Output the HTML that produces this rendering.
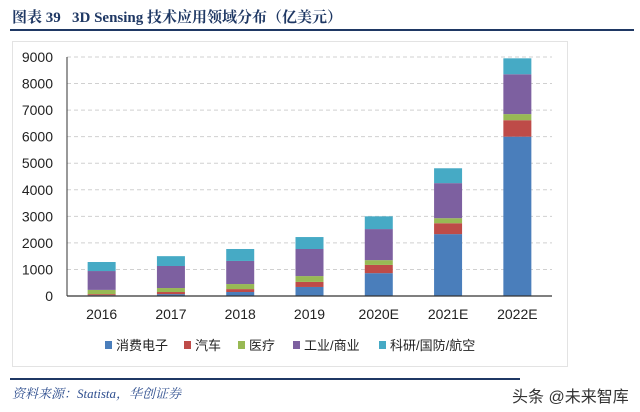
<!DOCTYPE html>
<html><head><meta charset="utf-8">
<style>
body{margin:0;width:640px;height:412px;background:#fff;overflow:hidden;position:relative;font-family:"Liberation Sans","Noto Sans CJK SC",sans-serif;}
#title{position:absolute;left:12px;top:6px;font-family:"Liberation Serif","Noto Serif CJK SC",serif;font-weight:bold;font-size:15px;color:#1f3864;white-space:nowrap;}
#tline{position:absolute;left:10px;top:29px;width:624px;height:2px;background:#1f3864;}
#box{position:absolute;left:12px;top:41px;width:556px;height:326px;border:1px solid #e3e3e3;box-sizing:border-box;}
#fline{position:absolute;left:10px;top:378px;width:510px;height:2px;background:#1f3864;}
#src{position:absolute;left:12px;top:383px;font-family:"Liberation Serif","Noto Serif CJK SC",serif;font-style:italic;font-size:13px;color:#2f4f8f;}
#wm{position:absolute;left:512px;top:383px;font-size:16px;color:#333;}
</style></head><body>
<div id="title">图表 39&nbsp;&nbsp; 3D Sensing 技术应用领域分布（亿美元）</div>
<div id="tline"></div>
<div id="box"></div>
<svg id="chart" width="640" height="412" style="position:absolute;left:0;top:0"></svg>
<div id="fline"></div>
<div id="src">资料来源：Statista，华创证券</div>
<div id="wm">头条 @未来智库</div>
<script>
const categories=["2016","2017","2018","2019","2020E","2021E","2022E"];
const seriesNames=["消费电子","汽车","医疗","工业/商业","科研/国防/航空"];
const consumer=[30,70,150,340,860,2330,6000];
const auto=[40,80,110,190,310,410,620];
const medical=[160,150,190,220,180,190,230];
const industrial=[710,830,870,1020,1170,1320,1500];
const research=[340,370,450,450,480,560,600];
const yTicks=[0,1000,2000,3000,4000,5000,6000,7000,8000,9000];
const colors=["#4a7ebb","#be4b48","#98b954","#7d60a0","#46aac5"];
const series=[consumer,auto,medical,industrial,research];
const NS="http://www.w3.org/2000/svg";
const svg=document.getElementById('chart');
const x0=67,x1=552,yBase=296,yTop=57,yMax=9000;
const step=(x1-x0)/categories.length, bw=28;
function yScale(v){return yBase-(v/yMax)*(yBase-yTop);}
function xCenter(i){return x0+step*(i+0.5);}
function mk(tag,attrs){const e=document.createElementNS(NS,tag);for(const k in attrs)e.setAttribute(k,attrs[k]);svg.appendChild(e);return e;}
yTicks.forEach(t=>{
  const y=yScale(t);
  if(t>0){const g=mk('line',{x1:x0,x2:x1,y1:y,y2:y,stroke:'#d0d0d0','stroke-dasharray':'4,3','stroke-width':1});
  
  }
  const tx=mk('text',{x:53,y:y+5,'text-anchor':'end','font-size':14,fill:'#222'});
  tx.textContent=t;
  
  
});
categories.forEach((c,i)=>{
  let acc=0;
  series.forEach((s,k)=>{
    const v=s[i];
    const r=mk('rect',{x:xCenter(i)-bw/2,y:yScale(acc+v),width:bw,height:yScale(acc)-yScale(acc+v),fill:colors[k]});
    
    
    acc+=v;
  });
  const tx=mk('text',{x:xCenter(i),y:319,'text-anchor':'middle','font-size':14,fill:'#222'});
  tx.textContent=c;
  
  
});
const ax=mk('line',{x1:x0,x2:x0,y1:yTop,y2:yBase,stroke:'#333','stroke-width':1});


const bx=mk('line',{x1:x0,x2:x1,y1:yBase,y2:yBase,stroke:'#333','stroke-width':1.2});


const legX=[105,184,238,293,379];
seriesNames.forEach((n,k)=>{
  const sw=mk('rect',{x:legX[k],y:341,width:7,height:8,fill:colors[k]});
  
  
  const tx=mk('text',{x:legX[k]+11,y:350,'font-size':13,fill:'#222'});
  tx.textContent=n;
  
  
});
</script>
</body></html>
